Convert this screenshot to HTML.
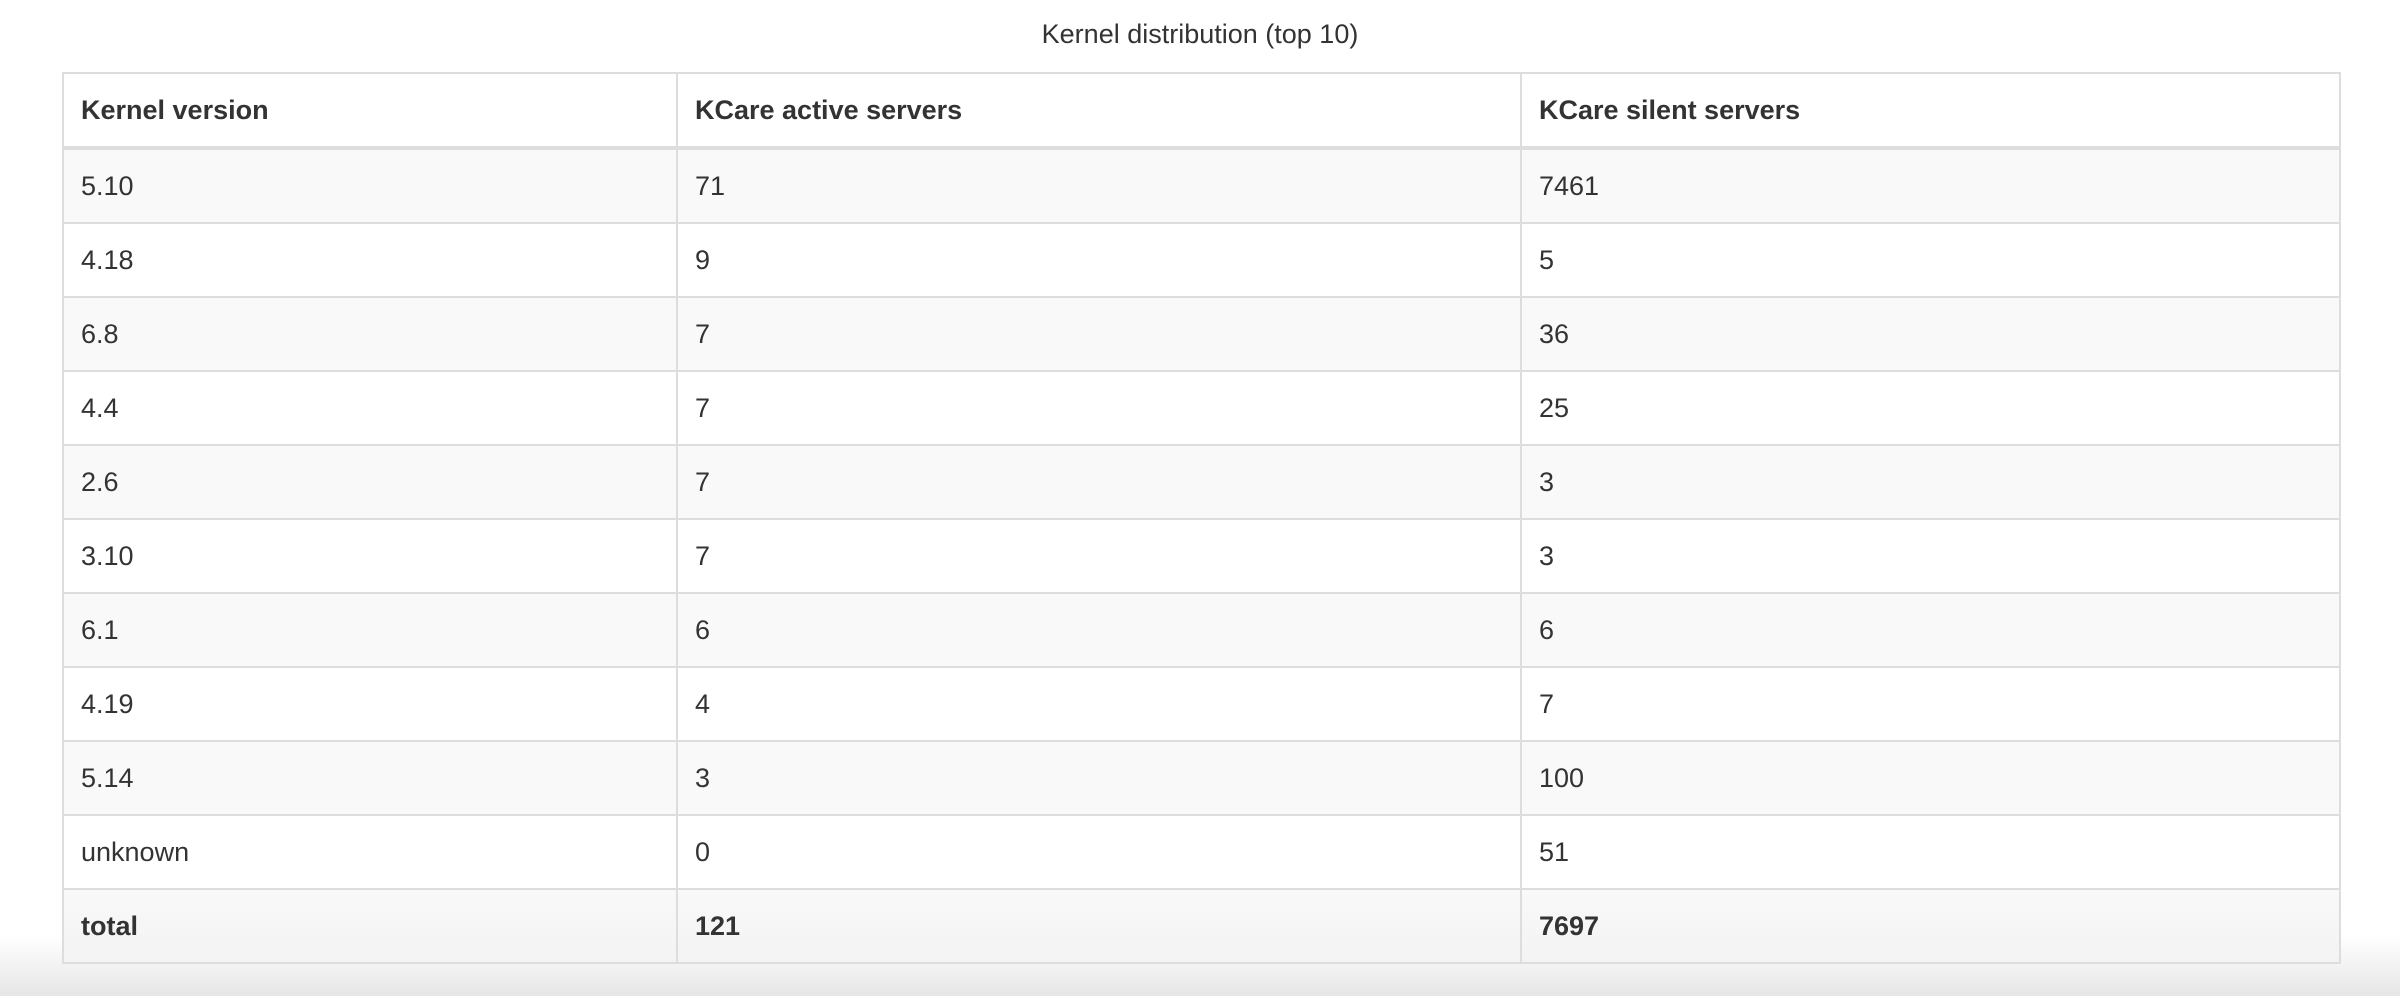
<!DOCTYPE html>
<html><head><meta charset="utf-8"><style>
html,body{margin:0;padding:0;width:2400px;height:996px;overflow:hidden;background:linear-gradient(to bottom,#fff 0,#fff 935px,#e6e6e6 996px);font-family:"Liberation Sans",sans-serif;color:#333}
h1{position:absolute;top:14px;left:0;width:2400px;text-align:center;font-size:27px;font-weight:normal;margin:0;line-height:40px}
table{position:absolute;left:62px;top:72px;width:2279px;border-collapse:collapse;border:2px solid #ddd;font-size:27px}
th,td{border:2px solid #ddd;padding:0 17px;text-align:left;height:72px;line-height:30px}
th{height:72px;border-bottom:4px solid #ddd}
tbody tr:nth-child(odd){background:#f9f9f9}
tr.total td{font-weight:bold;background:linear-gradient(#f9f9f9,#f3f3f3)}
</style></head><body>
<h1>Kernel distribution (top 10)</h1>
<table>
<colgroup><col style="width:614px"><col style="width:844px"><col></colgroup>
<thead><tr><th>Kernel version</th><th>KCare active servers</th><th>KCare silent servers</th></tr></thead>
<tbody>
<tr><td>5.10</td><td>71</td><td>7461</td></tr>
<tr><td>4.18</td><td>9</td><td>5</td></tr>
<tr><td>6.8</td><td>7</td><td>36</td></tr>
<tr><td>4.4</td><td>7</td><td>25</td></tr>
<tr><td>2.6</td><td>7</td><td>3</td></tr>
<tr><td>3.10</td><td>7</td><td>3</td></tr>
<tr><td>6.1</td><td>6</td><td>6</td></tr>
<tr><td>4.19</td><td>4</td><td>7</td></tr>
<tr><td>5.14</td><td>3</td><td>100</td></tr>
<tr><td>unknown</td><td>0</td><td>51</td></tr>
<tr class="total"><td>total</td><td>121</td><td>7697</td></tr>
</tbody></table>
</body></html>
